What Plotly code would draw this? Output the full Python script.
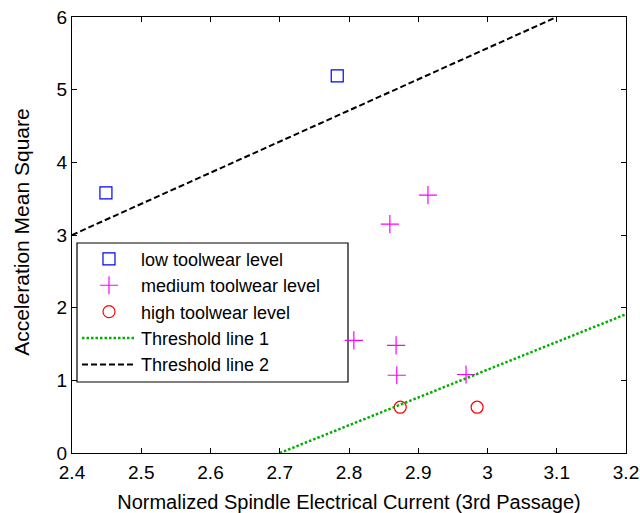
import plotly.graph_objects as go

# Toolwear measurements: spindle current vs. acceleration mean square
low_x = [2.449, 2.783]
low_y = [3.58, 5.19]

medium_x = [2.914, 2.859, 2.807, 2.868, 2.869, 2.969]
medium_y = [3.55, 3.15, 1.55, 1.48, 1.07, 1.08]

high_x = [2.874, 2.985]
high_y = [0.63, 0.63]

# Threshold lines (end points)
thr1_x = [2.7, 3.2]
thr1_y = [0.0, 1.91]
thr2_x = [2.4, 3.1]
thr2_y = [3.0, 6.0]

x_ticks = [2.4, 2.5, 2.6, 2.7, 2.8, 2.9, 3.0, 3.1, 3.2]
x_tick_text = ["2.4", "2.5", "2.6", "2.7", "2.8", "2.9", "3", "3.1", "3.2"]
y_ticks = [0, 1, 2, 3, 4, 5, 6]

FONT = "Liberation Sans, Arial, Helvetica, sans-serif"
PLOT_W, PLOT_H = 554, 436

fig = go.Figure()
fig.add_trace(go.Scatter(
    x=low_x, y=low_y, mode="markers", name="low toolwear level",
    marker=dict(symbol="square-open", size=12, color="#0000ff", line=dict(width=1.2)),
))
fig.add_trace(go.Scatter(
    x=medium_x, y=medium_y, mode="markers", name="medium toolwear level",
    marker=dict(symbol="cross-thin-open", size=13, color="#ff00ff",
                line=dict(width=1.2, color="#ff00ff")),
))
fig.add_trace(go.Scatter(
    x=high_x, y=high_y, mode="markers", name="high toolwear level",
    marker=dict(symbol="circle-open", size=12, color="#ff0000", line=dict(width=1.2)),
))
fig.add_trace(go.Scatter(
    x=thr1_x, y=thr1_y, mode="lines", name="Threshold line 1",
    line=dict(color="#00b000", width=2.5, dash="2.5px,2px"),
))
fig.add_trace(go.Scatter(
    x=thr2_x, y=thr2_y, mode="lines", name="Threshold line 2",
    line=dict(color="#000000", width=2, dash="6px,3px"),
))

axis_common = dict(
    showgrid=False, zeroline=False, showline=True, linecolor="black", linewidth=1.2,
    mirror="ticks", ticks="inside", ticklen=5, tickcolor="black", automargin=False,
    tickfont=dict(family=FONT, size=19, color="black"),
)

fig.update_layout(
    width=640, height=513,
    margin=dict(l=72, r=14, t=17, b=60),
    paper_bgcolor="white", plot_bgcolor="white",
    font=dict(family=FONT, size=19, color="black"),
    xaxis=dict(range=[2.4, 3.2], tickvals=x_ticks, ticktext=x_tick_text,
               ticklabelstandoff=2,
               title=dict(text="Normalized Spindle Electrical Current (3rd Passage)",
                          font=dict(family=FONT, size=20), standoff=15),
               **axis_common),
    yaxis=dict(range=[0, 6], tickvals=y_ticks, **axis_common),
    legend=dict(x=0.009, y=0.487, xanchor="left", yanchor="top",
                bgcolor="rgba(0,0,0,0)", borderwidth=0,
                font=dict(family=FONT, size=18, color="black"),
                tracegroupgap=0, itemwidth=54),
    showlegend=True,
)

# Framed white box behind the legend entries
fig.add_shape(
    type="rect", xref="paper", yref="paper", layer="below",
    x0=5 / PLOT_W, x1=276 / PLOT_W, y0=71 / PLOT_H, y1=210 / PLOT_H,
    fillcolor="white", line=dict(color="black", width=1.2),
)

# Vertical y-axis title placed to the left of the tick labels
fig.add_annotation(
    text="Acceleration Mean Square", textangle=-90,
    xref="paper", yref="paper", x=-50 / PLOT_W, y=0.505,
    xanchor="center", yanchor="middle", showarrow=False,
    font=dict(family=FONT, size=21, color="black"),
)

fig.write_html("out.html")
